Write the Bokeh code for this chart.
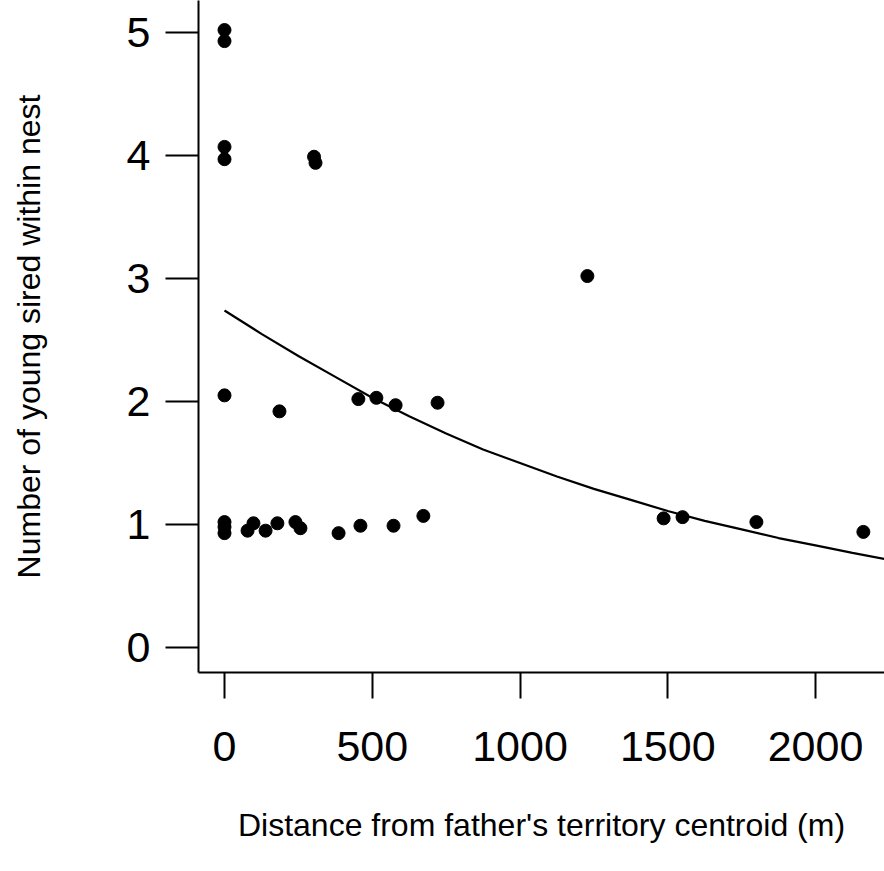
from bokeh.plotting import figure
from bokeh.models import Range1d, FixedTicker
from bokeh.embed import file_html
from bokeh.resources import INLINE

# Observed data (distance in m, young sired; vertical jitter as in the picture)
dist = [0, 0, 0, 0, 303, 308,
        0, 186, 453, 514, 579, 721, 1228,
        0, 0, 0, 78, 98, 139, 179, 240, 257, 386, 460, 572, 673,
        1486, 1550, 1800, 2162]
young = [5.02, 4.93, 4.07, 3.97, 3.99, 3.94,
         2.05, 1.92, 2.02, 2.03, 1.97, 1.99, 3.02,
         1.02, 0.98, 0.93, 0.95, 1.01, 0.95, 1.01, 1.02, 0.97, 0.93, 0.99, 0.99, 1.07,
         1.05, 1.06, 1.02, 0.94]

# Fitted curve
fit_x = [0, 125, 250, 375, 500, 625, 750, 875, 1000, 1125, 1250, 1375,
         1500, 1625, 1750, 1875, 2000, 2125, 2233]
fit_y = [2.74, 2.55, 2.37, 2.20, 2.03, 1.88, 1.74, 1.61, 1.50, 1.39, 1.29, 1.20,
         1.11, 1.03, 0.96, 0.89, 0.83, 0.77, 0.72]

x_ticks = [0, 500, 1000, 1500, 2000]
y_ticks = [0, 1, 2, 3, 4, 5]

FONT = "Liberation Sans"

p = figure(width=884, height=871, output_backend="svg", toolbar_location=None,
           x_range=Range1d(-88, 2233.5), y_range=Range1d(-0.203, 5.26),
           min_border_left=198, min_border_right=0, min_border_top=0,
           min_border_bottom=199)
p.outline_line_color = None
p.grid.visible = False
p.background_fill_color = "white"
p.border_fill_color = "white"

p.line(fit_x, fit_y, line_color="black", line_width=2.2)
p.scatter(dist, young, size=13, fill_color="black", line_color="black")

for ax in (p.xaxis[0], p.yaxis[0]):
    ax.axis_line_color = "black"
    ax.axis_line_width = 2
    ax.major_tick_line_color = "black"
    ax.major_tick_line_width = 2
    ax.major_tick_in = 0
    ax.minor_tick_line_color = None
    ax.major_label_text_font = FONT
    ax.major_label_text_font_size = "43px"
    ax.major_label_text_color = "black"
    ax.axis_label_text_font = FONT
    ax.axis_label_text_font_size = "32px"
    ax.axis_label_text_font_style = "normal"
    ax.axis_label_text_color = "black"

p.xaxis.ticker = FixedTicker(ticks=x_ticks)
p.yaxis.ticker = FixedTicker(ticks=y_ticks)
p.xaxis.major_tick_out = 26
p.yaxis.major_tick_out = 33
p.xaxis.major_label_standoff = 33
p.yaxis.major_label_standoff = 15
p.xaxis.axis_label = "Distance from father's territory centroid (m)"
p.yaxis.axis_label = "Number of young sired within nest"
p.xaxis.axis_label_standoff = 43
p.yaxis.axis_label_standoff = 77

open("out.html", "w").write(file_html(p, INLINE))
